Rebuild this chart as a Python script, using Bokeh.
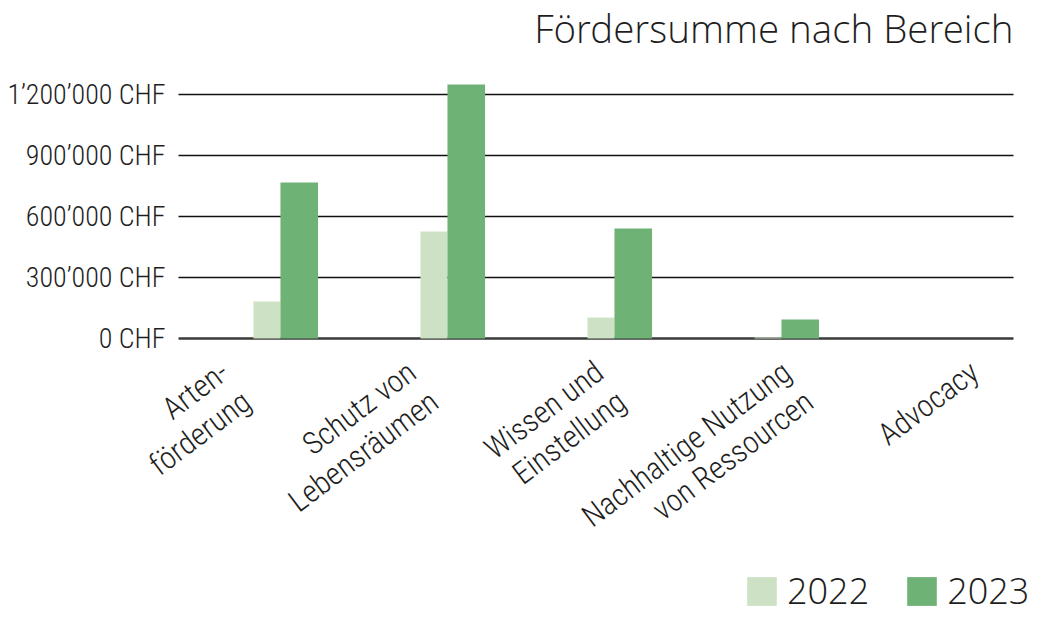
import numpy as np
from bokeh.plotting import figure
from bokeh.models import Range1d, FixedTicker, Label, Legend, LegendItem
from bokeh.embed import file_html
from bokeh.resources import INLINE

# ---------------- data ----------------
categories = [
    "Arten-\nförderung",
    "Schutz von\nLebensräumen",
    "Wissen und\nEinstellung",
    "Nachhaltige Nutzung\nvon Ressourcen",
    "Advocacy",
]
years = ["2022", "2023"]
values_2022 = [182000, 526000, 103000, 5000, 0]
values_2023 = [767000, 1249000, 541000, 93000, 0]
y_ticks = [0, 300000, 600000, 900000, 1200000]
y_tick_labels = ["0 CHF", "300’000 CHF", "600’000 CHF", "900’000 CHF", "1’200’000 CHF"]
title_text = "Fördersumme nach Bereich"

# ---------------- style / layout ----------------
LIGHT = "#cde1c4"
DARK = "#6fb276"
TEXT = "#1e1e1e"
NARROW = "Roboto Condensed Light, Roboto Condensed, DejaVu Sans Condensed, Roboto"
WIDE = "Open Sans Light, Open Sans"
W, H = 1035, 617
n = len(categories)
idx = np.arange(n)

# horizontal mapping: category i centre at canvas px X0 + DX * i
X0, DX = 261.5, 167.0
x_start = -X0 / DX
x_end = (W - X0) / DX
# vertical mapping
Y0_PX, YTOP_PX = 338, 94              # canvas px of 0 and of the top tick
scale = (Y0_PX - YTOP_PX) / y_ticks[-1]   # px per CHF
y_end = Y0_PX / scale
y_start = -(H - Y0_PX) / scale


def ydata(canvas_y):
    return (Y0_PX - canvas_y) / scale


# label scale: rotated label anchors use their own spacing
LAB_X0, LAB_DX = 213.0, 187.5
lab_start = -LAB_X0 / LAB_DX
lab_end = (W - LAB_X0) / LAB_DX

p = figure(
    width=W, height=H,
    x_range=Range1d(x_start, x_end),
    y_range=Range1d(y_start, y_end),
    output_backend="svg", toolbar_location=None, title=None,
    x_axis_location=None,
    min_border=0, min_border_left=0, min_border_right=0,
    min_border_top=0, min_border_bottom=0,
)
p.extra_x_ranges = {"lab": Range1d(lab_start, lab_end)}
p.outline_line_color = None
p.background_fill_color = "white"
p.xgrid.visible = False
p.ygrid.visible = False

# y axis, drawn at the left edge of the plotting area
yax = p.yaxis[0]
yax.fixed_location = -0.5
yax.ticker = FixedTicker(ticks=y_ticks)
yax.major_label_overrides = dict(zip(y_ticks, y_tick_labels))
yax.axis_line_color = None
yax.major_tick_line_color = None
yax.minor_tick_line_color = None
yax.major_tick_out = 0
yax.major_tick_in = 0
yax.major_label_standoff = 13
yax.major_label_text_font = NARROW
yax.major_label_text_font_size = "28px"
yax.major_label_text_color = TEXT

# horizontal grid lines (from tick values) and baseline
p.segment(x0=-0.5, x1=n - 0.5, y0=y_ticks[1:], y1=y_ticks[1:],
          line_color="#111111", line_width=1.6)
p.segment(x0=-0.5, x1=n - 0.5, y0=0, y1=0, line_color="#3a3a3a", line_width=2.6)

# bars
r22 = p.vbar(x=idx + 0.030, width=0.162, top=values_2022, bottom=0,
             fill_color=LIGHT, line_color=None)
r23 = p.vbar(x=idx + 0.223, width=0.225, top=values_2023, bottom=0,
             fill_color=DARK, line_color=None)

# category labels (rotated, multi-line)
for i, cat in enumerate(categories):
    p.add_layout(Label(
        x=i, y=ydata(353), x_range_name="lab", text=cat,
        angle=37, angle_units="deg", text_align="right", text_baseline="top",
        text_font=NARROW, text_font_size="31px", text_line_height=1.0,
        text_color=TEXT,
    ))

# title
p.add_layout(Label(
    x=n - 0.5, y=ydata(27), text=title_text, text_align="right",
    text_baseline="alphabetic", text_font=WIDE, text_font_size="38.5px",
    text_color=TEXT,
))

# legend
legend = Legend(
    items=[LegendItem(label=years[0], renderers=[r22]),
           LegendItem(label=years[1], renderers=[r23])],
    orientation="horizontal", location=(743, 2),
    glyph_width=37, glyph_height=36, label_standoff=7, spacing=34,
    padding=0, margin=0, border_line_color=None, background_fill_alpha=0,
    label_text_font=WIDE, label_text_font_size="36px",
    label_text_color=TEXT,
)
p.add_layout(legend)

open("out.html", "w").write(file_html(p, INLINE))
